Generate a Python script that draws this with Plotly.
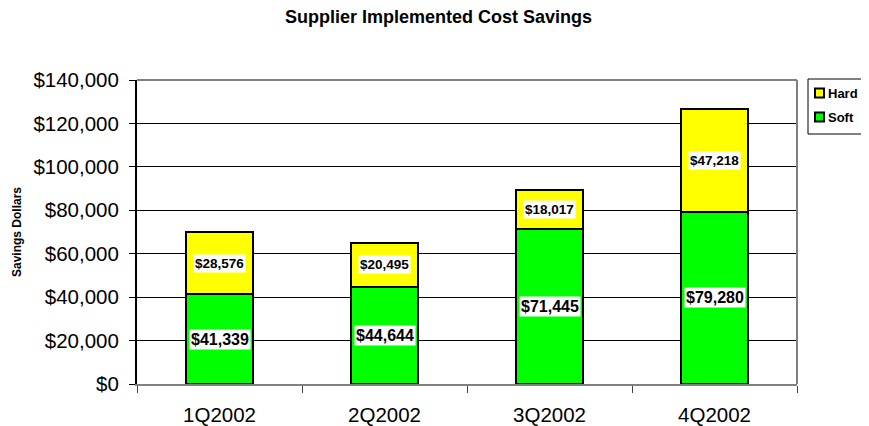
import plotly.graph_objects as go

categories = ["1Q2002", "2Q2002", "3Q2002", "4Q2002"]
soft = [41339, 44644, 71445, 79280]
hard = [28576, 20495, 18017, 47218]
series_names = ["Hard", "Soft"]
series_colors = ["#FFFF00", "#00FF00"]
y_ticks = [0, 20000, 40000, 60000, 80000, 100000, 120000, 140000]
y_tick_labels = ["$0", "$20,000", "$40,000", "$60,000", "$80,000", "$100,000", "$120,000", "$140,000"]

FONT = "Liberation Sans, Arial, sans-serif"
W, H = 869, 426
OFF = 8  # page body margin offset of the figure in the browser window
# plot area in window pixels: left 137, right 797, top 80, bottom 384
ML, MT = 137 - OFF, 80 - OFF
MR, MB = W - (797 - OFF), H - (384 - OFF)
PW, PH = W - ML - MR, H - MT - MB


def px_x(px):
    return (px - OFF - ML) / PW


def px_y(py):
    return (H - MB - (py - OFF)) / PH


fig = go.Figure()
fig.add_trace(go.Bar(x=categories, y=soft, name="Soft",
                     marker=dict(color=series_colors[1], line=dict(color="black", width=2)), width=0.405))
fig.add_trace(go.Bar(x=categories, y=hard, name="Hard",
                     marker=dict(color=series_colors[0], line=dict(color="black", width=2)), width=0.405))

for c, s, h in zip(categories, soft, hard):
    fig.add_annotation(x=c, y=s / 2, text="<b>${:,}</b>".format(s), showarrow=False,
                       bgcolor="white", borderpad=1, font=dict(family=FONT, size=16, color="black"))
    fig.add_annotation(x=c, y=s + h / 2, text="<b>${:,}</b>".format(h), showarrow=False,
                       bgcolor="white", borderpad=1, font=dict(family=FONT, size=13.5, color="black"))

# y-axis title
fig.add_annotation(xref="paper", yref="paper", x=px_x(17), y=0.5, xanchor="center", yanchor="middle",
                   text="<b>Savings Dollars</b>", textangle=-90, showarrow=False,
                   font=dict(family=FONT, size=12, color="black"))

# legend box (drawn manually to match the original compact legend)
fig.add_shape(type="rect", xref="paper", yref="paper", x0=px_x(808), x1=px_x(868), y0=px_y(134), y1=px_y(79),
              line=dict(color="black", width=1), fillcolor="white")
for i, (name, col) in enumerate(zip(series_names, series_colors)):
    cy = 93 + 24 * i
    fig.add_shape(type="rect", xref="paper", yref="paper", x0=px_x(815), x1=px_x(824),
                  y0=px_y(cy + 4.5), y1=px_y(cy - 4.5), line=dict(color="black", width=2), fillcolor=col)
    fig.add_annotation(xref="paper", yref="paper", x=px_x(826), y=px_y(cy), xanchor="left", yanchor="middle",
                       text="<b>" + name + "</b>", showarrow=False, font=dict(family=FONT, size=13, color="black"))

fig.update_layout(
    barmode="stack",
    width=W, height=H,
    margin=dict(l=ML, r=MR, t=MT, b=MB, autoexpand=False),
    paper_bgcolor="white", plot_bgcolor="white",
    font=dict(family=FONT, color="black"),
    title=dict(text="<b>Supplier Implemented Cost Savings</b>", x=(438.5 - OFF) / W, xanchor="center",
               xref="container", y=1 - (17 - OFF) / H, yanchor="middle", yref="container",
               font=dict(size=18, family=FONT, color="black")),
    showlegend=False,
)
fig.update_xaxes(showline=True, linecolor="#808080", linewidth=2, mirror=False, automargin=False,
                 tickfont=dict(size=20.5, family=FONT, color="black"),
                 ticks="outside", tickson="boundaries", ticklen=7, tickcolor="#404040", tickwidth=1,
                 ticklabelstandoff=11, showgrid=False)
fig.update_yaxes(range=[0, 140000], tickvals=y_ticks, ticktext=y_tick_labels, automargin=False,
                 tickfont=dict(size=20.5, family=FONT, color="black"),
                 showgrid=True, gridcolor="black", gridwidth=1,
                 showline=True, linecolor="black", linewidth=2,
                 ticks="outside", ticklen=6, tickcolor="black", ticklabelstandoff=6)
# gray border on top and right of plot area
fig.add_shape(type="line", xref="paper", yref="paper", x0=0, x1=1, y0=1, y1=1, line=dict(color="#808080", width=2))
fig.add_shape(type="line", xref="paper", yref="paper", x0=1, x1=1, y0=0, y1=1, line=dict(color="#808080", width=2))

fig.write_html("out.html")
